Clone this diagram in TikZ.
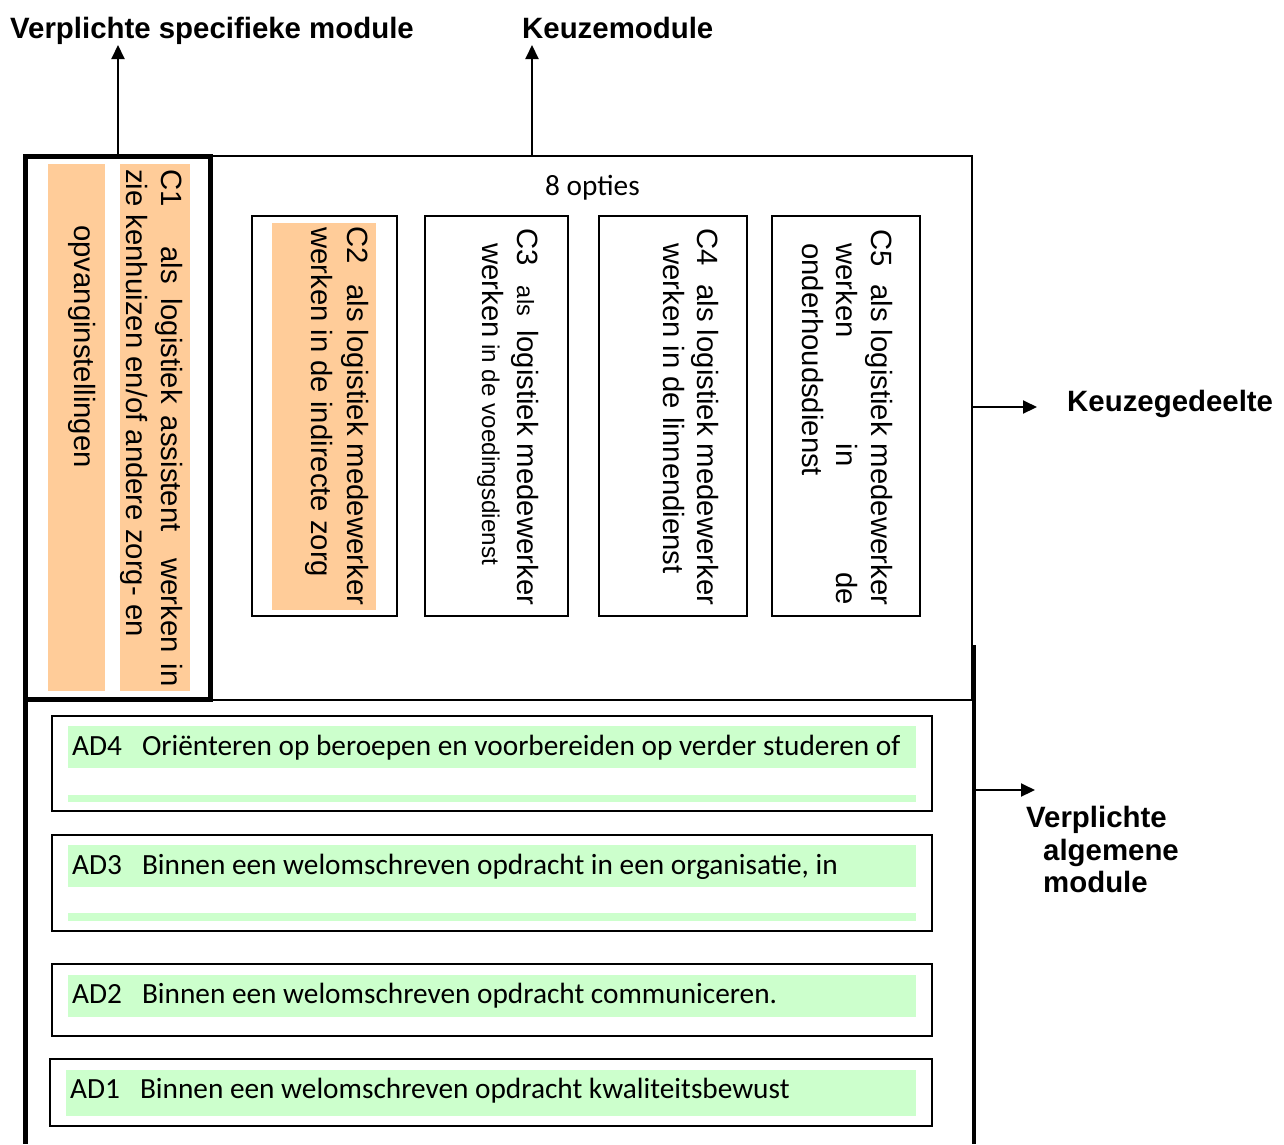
\documentclass[tikz,border=0pt]{standalone}
\usepackage{fontspec}
\setmainfont{Liberation Sans}
\newfontfamily\calib{Carlito}
\usetikzlibrary{arrows.meta}
\definecolor{peach}{HTML}{FFCC99}
\definecolor{mint}{HTML}{CCFFCC}
\begin{document}
\begin{tikzpicture}[x=1pt,y=-1pt,
  arr/.style={line width=2pt,-{Triangle[length=14pt,width=13pt]}},
  thinln/.style={line width=2pt},
  thickln/.style={line width=5pt},
  ct/.style={rotate=-90,anchor=base west,inner sep=0pt,font=\fontsize{29.3}{34}\selectfont},
  ad/.style={anchor=base west,inner sep=0pt,font=\calib\fontsize{29.3}{34}\selectfont},
  ttl/.style={anchor=base west,inner sep=0pt,font=\bfseries\fontsize{29.4}{34}\selectfont},
  adbox/.style={line width=2.5pt}]
\useasboundingbox (0,0) rectangle (1284,1144);

% fills
\fill[peach] (48,164) rectangle (105,691);
\fill[peach] (120,164) rectangle (190,691);
\fill[peach] (272,223) rectangle (376,610);
\fill[mint] (68,726) rectangle (916,768);
\fill[mint] (68,795) rectangle (916,802);
\fill[mint] (68,845) rectangle (916,887);
\fill[mint] (68,913) rectangle (916,921);
\fill[mint] (68,975) rectangle (916,1017);
\fill[mint] (66,1070) rectangle (916,1116);

% frames
\draw[thinln] (25,156) rectangle (972,700);
\draw[thickln] (25.5,156.5) rectangle (210.5,699.5);
\draw[thickln] (25.5,700) -- (25.5,1144);
\draw[line width=4pt] (973.5,645) -- (973.5,1144);

\draw[thinln] (252,216) rectangle (396.5,616);
\draw[thinln] (425,216) rectangle (567.5,616);
\draw[thinln] (598.5,216) rectangle (746.5,616);
\draw[thinln] (772,216) rectangle (920,616);

\draw[adbox] (52,716) rectangle (932,811);
\draw[adbox] (52,835) rectangle (932,931);
\draw[adbox] (52,964) rectangle (932,1036);
\draw[adbox] (50,1059) rectangle (932,1126);

% C texts
\node[ct] (c1a) at (161,169) {C1\hspace{40pt}als\hspace{14pt}logistiek\hspace{12pt}assistent\hspace{27pt}werken\hspace{11pt}in};
\node[ct] (c1b) at (126,169) {zie kenhuizen en/of andere zorg- en};
\node[ct] (c1c) at (74,225) {opvanginstellingen};

\node[ct] (c2a) at (347,226) {\hbox to 379pt{C2\hfill als logistiek medewerker}};
\node[ct] (c2b) at (311,227) {werken in de indirecte zorg};

\node[ct] (c3a) at (517,228) {\hbox to 377pt{C3\hfill{\fontsize{23.5}{26}\selectfont als}\hspace{14pt}logistiek medewerker}};
\node[ct] (c3b) at (482,243) {werken{\fontsize{24.2}{26}\selectfont\ in de voedingsdienst}};

\node[ct] (c4a) at (697,228) {\hbox to 377pt{C4\hfill als logistiek medewerker}};
\node[ct] (c4b) at (663,243) {werken in de linnendienst};

\node[ct] (c5a) at (871,229) {\hbox to 376pt{C5\hfill als logistiek medewerker}};
\node[ct] (c5b) at (836,243) {\hbox to 362pt{werken\hfill in\hfill de}};
\node[ct] (c5c) at (802,243) {onderhoudsdienst};

\node[ad] (opt) at (545,195) {8 opties};

% AD texts
\node[ad] (ad4) at (72,755) {AD4\hspace{20pt}Oriënteren op beroepen en voorbereiden op verder studeren of};
\node[ad] (ad3) at (72,874) {AD3\hspace{20pt}Binnen een welomschreven opdracht in een organisatie, in};
\node[ad] (ad2) at (72,1003) {AD2\hspace{20pt}Binnen een welomschreven opdracht communiceren.};
\node[ad] (ad1) at (70,1098) {AD1\hspace{20pt}Binnen een welomschreven opdracht kwaliteitsbewust};

% titles
\node[ttl] (t1) at (10,38) {Verplichte specifieke module};
\node[ttl] (t2) at (522,38) {Keuzemodule};
\node[ttl] (t3) at (1067,411) {Keuzegedeelte};
\node[ttl] (t4) at (1026,827) {Verplichte};
\node[ttl] (t5) at (1043,860) {algemene};
\node[ttl] (t6) at (1043,892) {module};

% connectors
\coordinate (s1) at (118,156); \coordinate (e1) at (118,45);
\coordinate (s2) at (532,156); \coordinate (e2) at (532,45);
\coordinate (s3) at (972,407); \coordinate (e3) at (1037,407);
\coordinate (s4) at (975,790); \coordinate (e4) at (1035,790);
\draw[arr] (s1) -- (e1);
\draw[arr] (s2) -- (e2);
\draw[arr] (s3) -- (e3);
\draw[arr] (s4) -- (e4);
\end{tikzpicture}
\end{document}
